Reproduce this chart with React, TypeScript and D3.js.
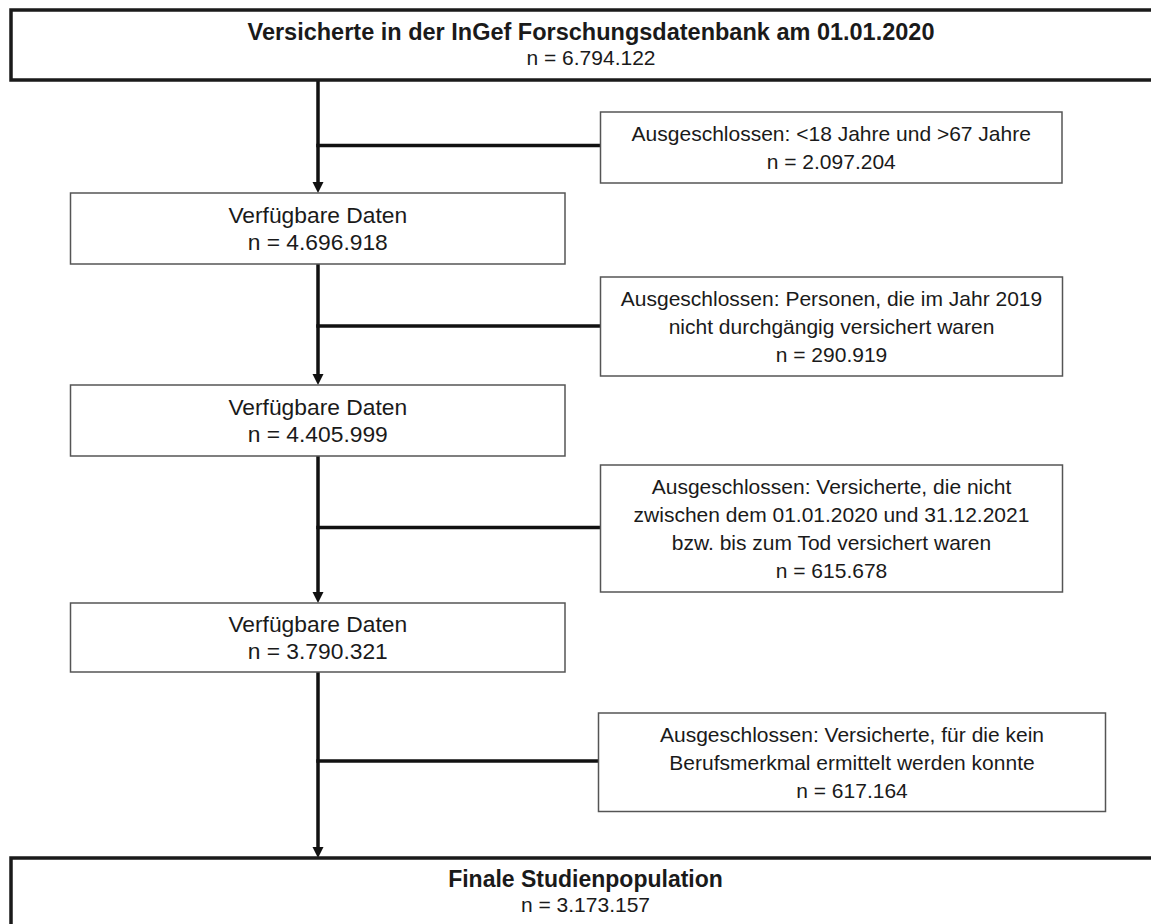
import React, { useEffect } from "react";
import * as d3 from "d3";

// flow data
const startLabel = "Versicherte in der InGef Forschungsdatenbank am 01.01.2020";
const stageLabel = "Verfügbare Daten";
const finalLabel = "Finale Studienpopulation";
const populationN = [6794122, 4696918, 4405999, 3790321, 3173157];
const excludedN = [2097204, 290919, 615678, 617164];
const exclusionText = [
  ["Ausgeschlossen: <18 Jahre und >67 Jahre"],
  ["Ausgeschlossen: Personen, die im Jahr 2019", "nicht durchgängig versichert waren"],
  [
    "Ausgeschlossen: Versicherte, die nicht",
    "zwischen dem 01.01.2020 und 31.12.2021",
    "bzw. bis zum Tod versichert waren",
  ],
  ["Ausgeschlossen: Versicherte, für die kein", "Berufsmerkmal ermittelt werden konnte"],
];

// layout (pixels)
const mainBoxes = [
  { x: 11, y: 10, w: 1160, h: 70 },
  { x: 70.5, y: 193, w: 494.5, h: 71 },
  { x: 70.5, y: 385, w: 494.5, h: 71 },
  { x: 70.5, y: 603, w: 494.5, h: 69 },
  { x: 11, y: 858, w: 1149, h: 90 },
];
const sideBoxes = [
  { x: 600.5, y: 112, w: 461.5, h: 71 },
  { x: 600.5, y: 277, w: 462, h: 99 },
  { x: 600.5, y: 465, w: 462, h: 127 },
  { x: 598.5, y: 713, w: 507, h: 98.5 },
];
const branchY = [145.5, 326, 527.5, 761];
const spineX = 318;

const font = "'Liberation Sans', Arial, sans-serif";
const ink = "#1a1a1a";

const de = d3.formatLocale({
  decimal: ",",
  thousands: ".",
  grouping: [3],
  currency: ["", " €"],
});
const fmtN = (v: number) => `n = ${de.format(",d")(v)}`;

const arrowHead = (x: number, tip: number) => {
  const p = d3.path();
  p.moveTo(x - 5.5, tip - 11);
  p.lineTo(x + 5.5, tip - 11);
  p.lineTo(x, tip);
  p.closePath();
  return p.toString();
};

function Lines({ lines, cx, cy, size, lh, bold = [] as boolean[], sizes = [] as number[] }) {
  const n = lines.length;
  return (
    <>
      {lines.map((t, i) => {
        const fs = sizes[i] ?? size;
        return (
          <text
            key={i}
            x={cx}
            y={cy + (i - (n - 1) / 2) * lh + fs * 0.358}
            textAnchor="middle"
            fontFamily={font}
            fontSize={fs}
            fontWeight={bold[i] ? "bold" : "normal"}
            fill={ink}
          >
            {t}
          </text>
        );
      })}
    </>
  );
}

export default function App() {
  useEffect(() => {
    document.body.style.margin = "0";
  }, []);

  const W = 1151;
  const H = 924;

  return (
    <svg width={W} height={H} style={{ display: "block", background: "#fff" }}>
      <rect width={W} height={H} fill="#fff" />

      {/* spine arrows */}
      {mainBoxes.slice(1).map((b, i) => {
        const from = mainBoxes[i].y + mainBoxes[i].h;
        return (
          <g key={i}>
            <line x1={spineX} x2={spineX} y1={from} y2={b.y - 8} stroke="#111" strokeWidth={3.5} />
            <path d={arrowHead(spineX, b.y)} fill="#111" />
          </g>
        );
      })}

      {/* branches */}
      {branchY.map((y, i) => (
        <line key={i} x1={spineX - 1.75} x2={sideBoxes[i].x} y1={y} y2={y} stroke="#111" strokeWidth={3.5} />
      ))}

      {/* main boxes */}
      {mainBoxes.map((b, i) => {
        const edge = i === 0 || i === mainBoxes.length - 1;
        return (
          <rect
            key={i}
            x={b.x}
            y={b.y}
            width={b.w}
            height={b.h}
            fill="#fff"
            stroke={edge ? ink : "#555"}
            strokeWidth={edge ? 3.5 : 1.5}
          />
        );
      })}

      {/* side boxes */}
      {sideBoxes.map((b, i) => (
        <rect key={i} x={b.x} y={b.y} width={b.w} height={b.h} fill="#fff" stroke="#555" strokeWidth={1.5} />
      ))}

      {/* texts */}
      <Lines
        lines={[startLabel, fmtN(populationN[0])]}
        cx={mainBoxes[0].x + mainBoxes[0].w / 2}
        cy={44.7}
        size={21}
        sizes={[23.5, 21]}
        lh={26.5}
        bold={[true, false]}
      />
      {[1, 2, 3].map((i) => (
        <Lines
          key={i}
          lines={[stageLabel, fmtN(populationN[i])]}
          cx={mainBoxes[i].x + mainBoxes[i].w / 2}
          cy={mainBoxes[i].y + mainBoxes[i].h / 2}
          size={22.8}
          lh={27.5}
        />
      ))}
      {sideBoxes.map((b, i) => (
        <Lines
          key={i}
          lines={[...exclusionText[i], fmtN(excludedN[i])]}
          cx={b.x + b.w / 2}
          cy={b.y + b.h / 2}
          size={21}
          lh={27.8}
        />
      ))}
      <Lines
        lines={[finalLabel, fmtN(populationN[4])]}
        cx={585.5}
        cy={891.5}
        size={21}
        sizes={[23, 21]}
        lh={26.3}
        bold={[true, false]}
      />
    </svg>
  );
}
